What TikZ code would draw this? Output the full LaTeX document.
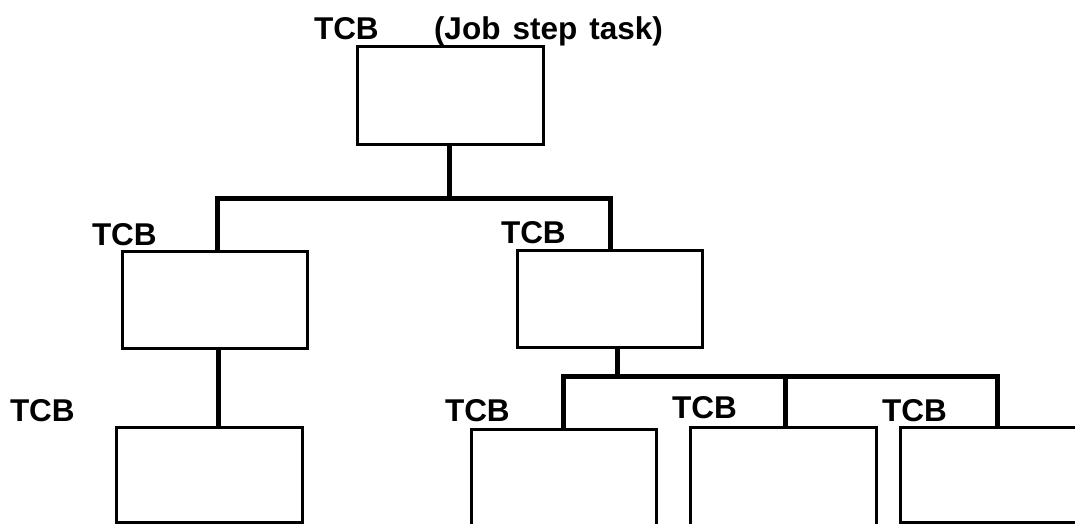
\documentclass[tikz,border=0pt]{standalone}
\usepackage{fontspec}
\setmainfont{Liberation Sans}
\begin{document}
\begin{tikzpicture}[x=1pt,y=-1pt,
  box/.style={rectangle,draw,line width=3pt,inner sep=0pt,outer sep=0pt},
  openbox/.style={rectangle,draw=none,inner sep=0pt,outer sep=0pt},
  side/.style={line width=3pt,line join=miter},
  bus/.style={line width=5pt,line join=miter},
  lbl/.style={anchor=base west,inner sep=0pt,outer sep=0pt,font=\bfseries\fontsize{31.5}{36}\selectfont}]
\useasboundingbox[fill=white] (0,0) rectangle (1075,523);
% boxes
\node[box,minimum width=186pt,minimum height=98pt] (top) at (450,95) {};
\node[box,minimum width=185pt,minimum height=97pt] (l2) at (214.5,299.5) {};
\node[box,minimum width=185pt,minimum height=97pt] (r2) at (609.5,298.5) {};
\node[box,minimum width=186pt,minimum height=95pt] (l3) at (209,474.5) {};
\node[openbox,minimum width=185pt,minimum height=100pt] (b1) at (563.5,479) {};
\node[openbox,minimum width=186pt,minimum height=102pt] (b2) at (783,478) {};
\node[openbox,minimum width=190pt,minimum height=95pt] (b3) at (995,474.5) {};
\draw[side] (b1.south west) -- (b1.north west) -- (b1.north east) -- (b1.south east);
\draw[side] (b2.south west) -- (b2.north west) -- (b2.north east) -- (b2.south east);
\draw[side] (b3.north east) -- (b3.north west) -- (b3.south west) -- (b3.south east);
% labels
\node[lbl] (t0) at (314,39) {TCB};
\node[lbl] (t0b) at (434,39) {\makebox[229pt][s]{(Job step task)}};
\node[lbl] (t1) at (92,245) {TCB};
\node[lbl] (t2) at (501,243) {TCB};
\node[lbl] (t3) at (10,421) {TCB};
\node[lbl] (t4) at (445,421) {TCB};
\node[lbl] (t5) at (672,418) {TCB};
\node[lbl] (t6) at (882,421) {TCB};
% junctions
\coordinate (j1) at (449,198);
\coordinate (j2) at (617,376);
\coordinate (j2m) at (785,376);
% connectors
\draw[bus] ([xshift=-1pt]top.south) -- (j1);
\draw[bus] ([xshift=2.5pt]l2.north) |- (j1) -| ([xshift=0.5pt]r2.north);
\draw[bus] ([xshift=3.5pt]l2.south) -- ([xshift=3.5pt]l2.south |- l3.north);
\draw[bus] ([xshift=7.5pt]r2.south) -- (j2);
\draw[bus] ([xshift=-0.5pt]b1.north) |- (j2) -| ([xshift=2pt]b3.north);
\draw[bus] (j2m) -- (j2m |- b1.north);
\end{tikzpicture}
\end{document}
